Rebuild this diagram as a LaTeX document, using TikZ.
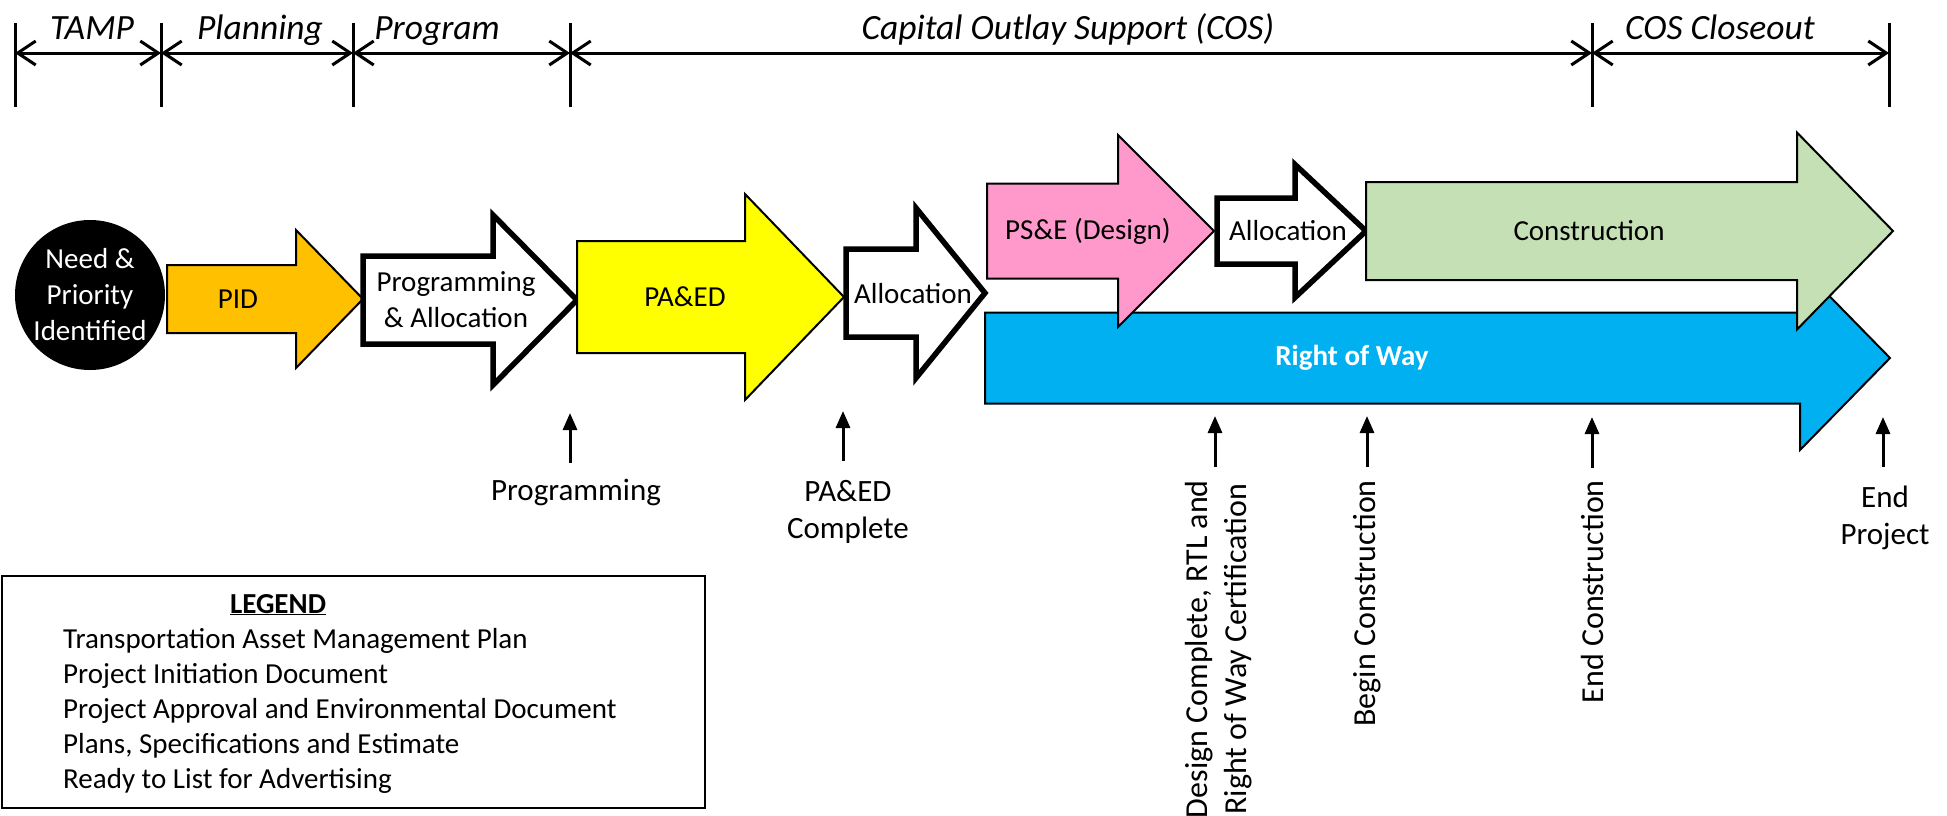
\documentclass[tikz,border=0pt]{standalone}
\usepackage{fontspec}
\setmainfont{Carlito}
\usetikzlibrary{arrows.meta}

\definecolor{pidgold}{HTML}{FFC000}
\definecolor{paedyellow}{HTML}{FFFF00}
\definecolor{psepink}{HTML}{FF99CC}
\definecolor{congreen}{HTML}{C5E0B4}
\definecolor{rowblue}{HTML}{00B0F0}

% #1 style, #2 left, #3 neck, #4 tip, #5 mid y, #6 half body, #7 half head
\newcommand{\blockarrow}[7]{%
    \draw[#1] (#2,#5-#6) -- (#3,#5-#6) -- (#3,#5-#7) -- (#4,#5)
        -- (#3,#5+#7) -- (#3,#5+#6) -- (#2,#5+#6) -- cycle;}

\begin{document}
\begin{tikzpicture}[
        x=1pt, y=-1pt,
        txt/.style={font=\fontsize{29}{36}\selectfont, inner sep=0pt, align=center},
        phase/.style={font=\fontsize{35.5}{40}\selectfont\itshape, inner sep=0pt, anchor=base},
        note/.style={font=\fontsize{31}{37}\selectfont, inner sep=0pt, align=center},
        vnote/.style={font=\fontsize{32}{39}\selectfont, inner sep=0pt, align=center,
            rotate=90, anchor=east},
        legitem/.style={font=\fontsize{29}{35}\selectfont, inner sep=0pt, anchor=base west},
        colarrow/.style={draw=black, line width=2pt},
        whitearrow/.style={draw=black, fill=white, line width=5.5pt},
        tick/.style={line width=3pt},
        span/.style={line width=3pt,
            {Straight Barb[length=18pt,width=24pt]}-{Straight Barb[length=18pt,width=24pt]}},
        mile/.style={line width=3pt, -{Triangle[length=17pt,width=14pt]}}
    ]

    \useasboundingbox (0,0) rectangle (1947,815);

    % phase ruler
    \foreach \x [count=\i] in {15,161,353,570,1592,1889} {
        \coordinate (tt\i) at (\x,23);
        \coordinate (tb\i) at (\x,107);
        \coordinate (s\i) at (\x,53);
        \draw[tick] (tt\i) -- (tb\i);
    }
    \foreach \a/\b in {1/2,2/3,3/4,4/5,5/6}
        \draw[span] (s\a) -- (s\b);

    \node[phase] (tamp) at (92,39) {TAMP};
    \node[phase] (plan) at (260,39) {Planning};
    \node[phase] (prog) at (437,39) {Program};
    \node[phase] (cos) at (1068,39) {Capital Outlay Support (COS)};
    \node[phase] (close) at (1720,39) {COS Closeout};

    % process arrows
    \blockarrow{colarrow, fill=rowblue}{985}{1800}{1890}{358}{45.5}{92}
    \blockarrow{colarrow, fill=pidgold}{167}{296}{363}{299}{34}{69}
    \blockarrow{whitearrow}{363}{493}{577}{300}{44}{85}
    \blockarrow{colarrow, fill=paedyellow}{577}{745}{844}{297}{56}{103}
    \blockarrow{whitearrow}{846}{916}{985}{293}{44}{85}
    \blockarrow{colarrow, fill=psepink}{987}{1118}{1214}{231}{47.5}{96}
    \blockarrow{whitearrow}{1217}{1295}{1366}{231}{33}{66.5}
    \blockarrow{colarrow, fill=congreen}{1366}{1797}{1893}{231}{49}{98.5}

    \node[circle, fill=black, minimum size=150pt, inner sep=0pt] (need) at (90,295) {};
    \node[txt, text=white] (needtxt) at (need.center)
        {Need \&\\Priority\\Identified};

    \node[txt] (pid) at (238,299) {PID};
    \node[txt] (progalloc) at (456,300) {Programming\\\& Allocation};
    \node[txt] (paed) at (685,297) {PA\&ED};
    \node[txt] (allocA) at (913,294) {Allocation};
    \node[txt] (pse) at (1088,231) {PS\&E (Design)};
    \node[txt] (allocB) at (1288,231) {Allocation};
    \node[txt] (constr) at (1589,231) {Construction};
    \node[txt, text=white, font=\fontsize{29}{36}\selectfont\bfseries] (row) at (1352,358)
        {Right of Way};

    % milestones
    \node[note, anchor=base] (mprog) at (576,500) {Programming};
    \node[note, anchor=north] (mpaed) at (848,480) {PA\&ED\\Complete};
    \node[vnote] (mdesign) at (1219,480)
        {Design Complete, RTL and\\Right of Way Certification};
    \node[vnote] (mbegin) at (1367,480) {Begin Construction};
    \node[vnote] (mend) at (1592,480) {End Construction};
    \node[note, anchor=north] (mproj) at (1885,486) {End\\Project};

    \coordinate (aprog) at (570,413);   \coordinate (bprog) at (570,463);
    \coordinate (apaed) at (843,411);   \coordinate (bpaed) at (843,461);
    \coordinate (adesign) at (1215,416); \coordinate (bdesign) at (1215,467);
    \coordinate (abegin) at (1367,416); \coordinate (bbegin) at (1367,467);
    \coordinate (aend) at (1592,417);   \coordinate (bend) at (1592,468);
    \coordinate (aproj) at (1883,417);  \coordinate (bproj) at (1883,467);

    \draw[mile] (bprog) -- (aprog);
    \draw[mile] (bpaed) -- (apaed);
    \draw[mile] (bdesign) -- (adesign);
    \draw[mile] (bbegin) -- (abegin);
    \draw[mile] (bend) -- (aend);
    \draw[mile] (bproj) -- (aproj);

    % legend
    \node[draw, line width=2pt, minimum width=703pt, minimum height=232pt,
        inner sep=0pt] (legend) at (353,691.5) {};
    \node[legitem, anchor=base, font=\fontsize{29}{35}\selectfont\bfseries] (legtitle)
        at (278,613) {\underline{LEGEND}};
    \foreach \t [count=\i] in {Transportation Asset Management Plan,
            Project Initiation Document,
            Project Approval and Environmental Document,
            {Plans, Specifications and Estimate},
            Ready to List for Advertising}
        \node[legitem] (leg\i) at (63,{648+35*(\i-1)}) {\t};

\end{tikzpicture}
\end{document}
